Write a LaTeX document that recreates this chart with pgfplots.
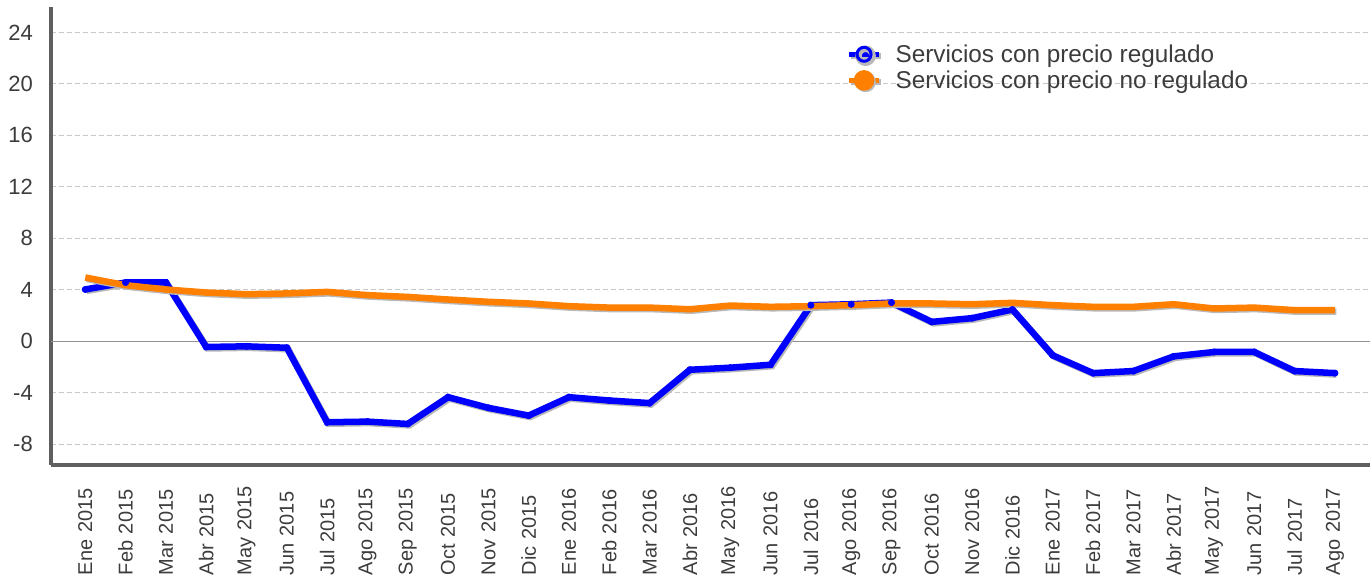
\documentclass[border=0pt]{standalone}
\usepackage{fontspec}
\setmainfont{Liberation Sans}
\usepackage{pgfplots}
\pgfplotsset{compat=1.18}
\definecolor{serblue}{RGB}{0,0,255}
\definecolor{serorange}{RGB}{255,128,0}
\definecolor{txtgray}{RGB}{60,60,60}
\definecolor{axgray}{RGB}{95,95,95}
\definecolor{gridgray}{RGB}{200,200,200}
\begin{document}
\begin{tikzpicture}
\begin{axis}[
  scale only axis, width=1319pt, height=458.3pt,
  xmin=-0.85, xmax=31.87, ymin=-9.61, ymax=26,
  axis lines*=left,
  axis line style={line width=4pt, draw=axgray, -},
  /pgf/number format/assume math mode=true,
  ytick={-8,-4,4,8,12,16,20,24},
  yticklabels={-8,-4,4,8,12,16,20,24},
  extra y ticks={0},
  extra y tick labels={0},
  extra y tick style={grid style={solid, draw=gray!85, line width=1.2pt}},
  ymajorgrids,
  grid style={dashed, draw=gridgray, line width=1pt, dash pattern=on 5pt off 3pt},
  ytick style={draw=none},
  xtick style={draw=none},
  yticklabel style={font=\fontsize{22}{26}\selectfont, text=txtgray, inner sep=0pt},
  yticklabel shift=18pt,
  xtick={0,...,31},
  xticklabels={Ene 2015,Feb 2015,Mar 2015,Abr 2015,May 2015,Jun 2015,Jul 2015,Ago 2015,Sep 2015,Oct 2015,Nov 2015,Dic 2015,Ene 2016,Feb 2016,Mar 2016,Abr 2016,May 2016,Jun 2016,Jul 2016,Ago 2016,Sep 2016,Oct 2016,Nov 2016,Dic 2016,Ene 2017,Feb 2017,Mar 2017,Abr 2017,May 2017,Jun 2017,Jul 2017,Ago 2017},
  xticklabel style={font=\fontsize{20}{24}\selectfont, text=txtgray, rotate=90, anchor=east, text width=90pt, align=left, inner sep=0pt},
  xticklabel shift=20pt,
  legend style={at={(rel axis cs:0.603,0.924)}, anchor=north west, draw=none, fill=none,
    font=\fontsize{24.3}{27}\selectfont, text=txtgray, row sep=1pt, inner sep=0pt,
    nodes={inner sep=3pt}, column sep=11pt},
  legend cell align=left,
]
\addplot[serblue, line width=6.5pt, mark=*, mark size=3pt, mark options={fill=serblue, line width=1pt},
  preaction={draw=gray!55, line width=6.5pt, transform canvas={xshift=1.5pt,yshift=-1.5pt}},
  legend image code/.code={\draw[serblue, line width=4.5pt] (0pt,0pt) -- (30pt,0pt);
    \draw[serblue, line width=3pt] (15pt,0pt) circle (7pt);}]
  coordinates {
  (0,4.03) (1,4.57) (2,4.57) (3,-0.44) (4,-0.39) (5,-0.50) (6,-6.29) (7,-6.24)
  (8,-6.42) (9,-4.34) (10,-5.17) (11,-5.77) (12,-4.34) (13,-4.60) (14,-4.80) (15,-2.21)
  (16,-2.05) (17,-1.82) (18,2.81) (19,2.88) (20,3.01) (21,1.51) (22,1.80) (23,2.47)
  (24,-1.09) (25,-2.47) (26,-2.31) (27,-1.17) (28,-0.83) (29,-0.83) (30,-2.31) (31,-2.47)
  };
\addlegendentry{Servicios con precio regulado}
\addplot[serorange, line width=6.5pt, mark=none,
  preaction={draw=gray!55, line width=6.5pt, transform canvas={xshift=1.5pt,yshift=-1.5pt}},
  legend image code/.code={\draw[serorange, line width=5pt] (0pt,0pt) -- (30pt,0pt);
    \fill[serorange] (15pt,0pt) circle (7pt);}]
  coordinates {
  (0,4.96) (1,4.36) (2,4.03) (3,3.79) (4,3.66) (5,3.72) (6,3.84) (7,3.59)
  (8,3.45) (9,3.25) (10,3.07) (11,2.94) (12,2.73) (13,2.62) (14,2.62) (15,2.49)
  (16,2.78) (17,2.68) (18,2.73) (19,2.81) (20,2.94) (21,2.94) (22,2.88) (23,2.99)
  (24,2.81) (25,2.68) (26,2.68) (27,2.88) (28,2.55) (29,2.62) (30,2.42) (31,2.42)
  };
\addlegendentry{Servicios con precio no regulado}
\coordinate (bl) at ([xshift=-51pt,yshift=-118pt]rel axis cs:0,0);
\coordinate (tr) at ([yshift=6.7pt]rel axis cs:1,1);
\end{axis}
\pgfresetboundingbox
\path (bl) rectangle (tr);
\end{tikzpicture}
\end{document}
